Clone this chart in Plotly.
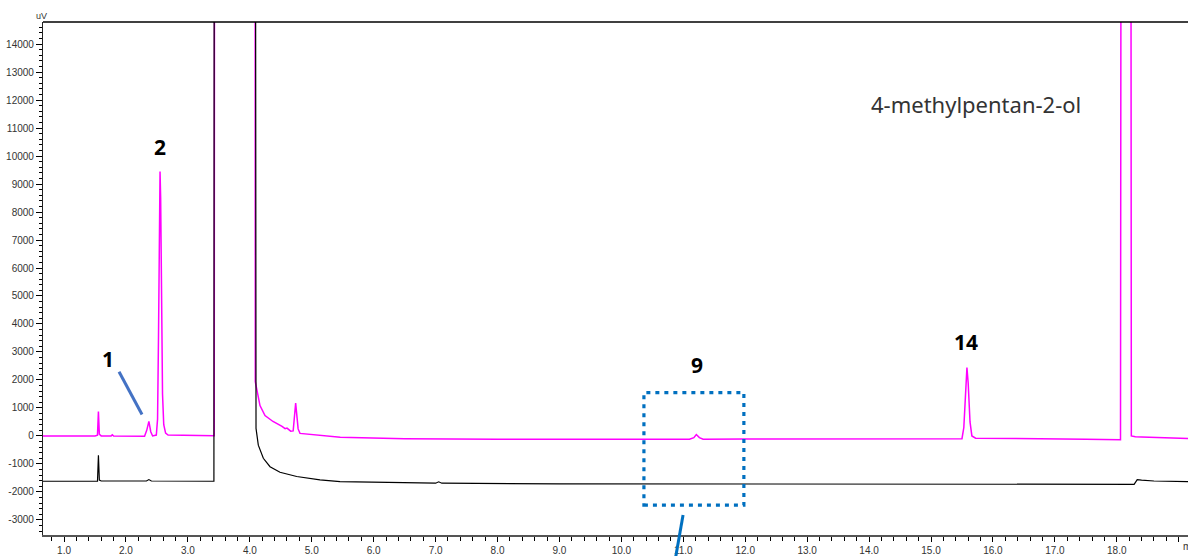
import plotly.graph_objects as go

# Sample chromatogram (magenta) - retention time (min) and detector signal (uV)
sample_time = [0.66, 1.50, 1.54, 1.555, 1.57, 1.60, 1.76, 1.78, 1.80, 2.30, 2.335, 2.37, 2.40, 2.43,
               2.49, 2.51, 2.525, 2.54, 2.55, 2.56, 2.575, 2.59, 2.61, 2.64, 2.68, 3.00, 3.425,
               3.44, 4.08, 4.088, 4.164, 4.245, 4.374, 4.52, 4.57, 4.60, 4.66, 4.70, 4.74, 4.78,
               4.81, 5.46, 6.50, 8.00, 10.00, 11.10, 11.17, 11.21, 11.26, 11.32, 12.00, 15.00,
               15.50, 15.53, 15.56, 15.58, 15.60, 15.63, 15.66, 15.72, 17.50, 18.06, 18.085,
               18.215, 18.235, 18.30, 18.40, 19.15]
sample_signal = [0, 0, 30, 870, 60, 0, 0, 40, 0, -10, 200, 520, 150, 0,
                 30, 600, 3500, 8000, 9450, 8500, 4500, 1500, 400, 100, 30, 10, 10,
                 60000, 60000, 1940, 1085, 730, 516, 340, 260, 280, 170, 180, 1170, 250,
                 90, -50, -100, -120, -120, -120, -60, 50, -60, -120, -110, -100,
                 -100, 300, 1700, 2440, 1900, 500, 0, -80, -120, -140, 60000,
                 60000, 0, -30, -40, -90]

# Blank chromatogram (black)
blank_time = [0.66, 1.54, 1.555, 1.57, 1.60, 2.33, 2.37, 2.41, 3.42, 3.435, 4.075, 4.10, 4.137,
              4.218, 4.326, 4.487, 4.757, 5.133, 5.456, 6.00, 7.00, 7.05, 7.10, 9.00, 12.00,
              15.00, 17.00, 18.28, 18.33, 18.40, 18.60, 19.15]
blank_signal = [-1620, -1620, -690, -1580, -1610, -1610, -1560, -1610, -1620, 60000, 60000, 270, -330,
                -800, -1100, -1300, -1450, -1570, -1630, -1660, -1690, -1640, -1690, -1710, -1720,
                -1730, -1740, -1730, -1560, -1580, -1610, -1630]

# Peak labels: (text, time, signal position)
peak_labels = ["1", "2", "9", "14"]
peak_label_time = [1.71, 2.55, 11.22, 15.57]
peak_label_signal = [2760, 10340, 2545, 3360]

compound_name = "4-methylpentan-2-ol"

x_ticks = list(range(1, 20))
x_tick_text = [f"{v:.1f}" for v in range(1, 19)] + [""]
y_ticks = list(range(-3000, 15000, 1000))
y_tick_text = [str(v) for v in y_ticks]

fig = go.Figure()
fig.add_trace(go.Scatter(x=sample_time, y=sample_signal, mode="lines",
                         line=dict(color="#FF00FF", width=1.5), showlegend=False))
fig.add_trace(go.Scatter(x=blank_time, y=blank_signal, mode="lines",
                         line=dict(color="#000000", width=1.2), showlegend=False))

label_font = dict(family="Noto Sans", size=21, color="#000000")
for txt, t, s in zip(peak_labels, peak_label_time, peak_label_signal):
    fig.add_annotation(x=t, y=s, xref="x", yref="y", text=f"<b>{txt}</b>", showarrow=False,
                       font=label_font, xanchor="center", yanchor="middle")

fig.add_annotation(x=15.73, y=11870, xref="x", yref="y", text=compound_name, showarrow=False,
                   font=dict(family="Noto Sans", size=22, color="#333333"),
                   xanchor="center", yanchor="middle")

fig.add_annotation(x=-0.001, y=1.011, xref="paper", yref="paper", text="uV", showarrow=False,
                   font=dict(family="Liberation Sans", size=9, color="#333333"),
                   xanchor="center", yanchor="middle")
fig.add_annotation(x=0.994, y=-0.022, xref="paper", yref="paper", text="min", showarrow=False,
                   font=dict(family="Liberation Sans", size=10, color="#333333"),
                   xanchor="left", yanchor="middle")

# top frame line
fig.add_shape(type="line", xref="paper", yref="paper", x0=0, x1=1, y0=1, y1=1,
              line=dict(color="#000000", width=1.3))
# leader line for peak 1
fig.add_shape(type="line", xref="x", yref="y", x0=1.888, y0=2295, x1=2.259, y1=765,
              line=dict(color="rgb(68,114,196)", width=3))
# dotted zoom box around peak 9
fig.add_shape(type="rect", xref="x", yref="y", x0=10.364, x1=11.978, y0=-2473, y1=1548,
              line=dict(color="rgb(0,112,192)", width=3.2, dash="4px,5px"))
fig.add_shape(type="line", xref="paper", yref="paper", x0=0.559, y0=0.0388, x1=0.552, y1=-0.05,
              line=dict(color="rgb(0,112,192)", width=3))

fig.update_xaxes(range=[0.66, 19.15], tickmode="array", tickvals=x_ticks, ticktext=x_tick_text,
                 ticks="outside", ticklen=5, tickcolor="#000", tickwidth=1,
                 minor=dict(dtick=0.2, tick0=0, ticks="outside", ticklen=4, tickcolor="#000"),
                 showline=True, linecolor="#555555", linewidth=1.5, showgrid=False, zeroline=False,
                 tickfont=dict(family="Liberation Sans", size=10, color="#333333"))
fig.update_yaxes(range=[-3540, 14790], tickmode="array", tickvals=y_ticks, ticktext=y_tick_text,
                 ticks="outside", ticklen=6, tickcolor="#000", tickwidth=1,
                 minor=dict(dtick=200, tick0=0, ticks="outside", ticklen=3, tickcolor="#000"),
                 showline=True, linecolor="#222222", linewidth=1.2, showgrid=False, zeroline=False,
                 tickfont=dict(family="Liberation Sans", size=10, color="#333333"))

fig.update_layout(width=1188, height=556, margin=dict(l=43, r=0, t=22, b=19),
                  plot_bgcolor="white", paper_bgcolor="white")

fig.write_html("out.html")
